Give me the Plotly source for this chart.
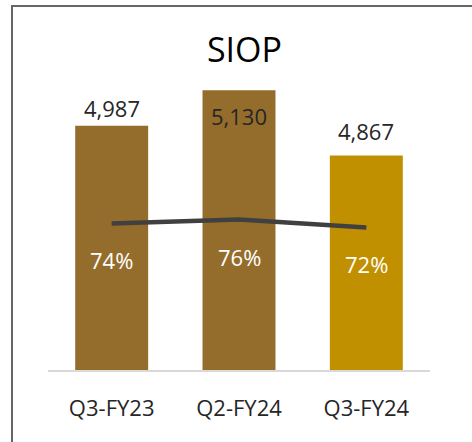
import plotly.graph_objects as go

categories = ["Q3-FY23", "Q2-FY24", "Q3-FY24"]
siop_values = [4987, 5130, 4867]
siop_pct = [0.74, 0.76, 0.72]
bar_colors = ["#946D2C", "#946D2C", "#C19000"]
value_label_shift = [18, -26, 24]

W, H = 472, 442
L, R, T, B = 48, 42, 73, 72
FONT = "Open Sans"

fig = go.Figure()
fig.add_trace(go.Bar(
    x=categories, y=siop_values, marker=dict(color=bar_colors, line=dict(width=0)),
    showlegend=False, hoverinfo="skip",
))
fig.add_trace(go.Scatter(
    x=categories, y=siop_pct, yaxis="y2", mode="lines",
    line=dict(color="#404040", width=4.5), showlegend=False, hoverinfo="skip",
))

for c, v, s in zip(categories, siop_values, value_label_shift):
    fig.add_annotation(x=c, y=v, xref="x", yref="y", text=f"{v:,}",
                       showarrow=False, yshift=s, yanchor="middle",
                       font=dict(family=FONT, size=22, color="#262626"))

for c, p in zip(categories, siop_pct):
    fig.add_annotation(x=c, y=p, xref="x", yref="y2", text=f"{p:.0%}",
                       showarrow=False, yshift=-37,
                       font=dict(family=FONT, size=22, color="#FFFFFF"))

pw, ph = W - L - R, H - T - B
def px_x(px):
    return (px - L) / pw
def px_y(py):
    return (H - B - py) / ph

bx, by = 12, 6
fig.add_shape(type="path", xref="paper", yref="paper",
              path=f"M {px_x(bx)},{px_y(H + 5)} L {px_x(bx)},{px_y(by)} L {px_x(W + 5)},{px_y(by)}",
              line=dict(color="#666666", width=2))

fig.update_layout(
    width=W, height=H, margin=dict(l=L, r=R, t=T, b=B),
    paper_bgcolor="white", plot_bgcolor="white",
    bargap=0.427,
    title=dict(text="SIOP", x=(244.5) / W, xanchor="center", y=1 - 50 / H, yanchor="middle",
               font=dict(family=FONT, size=34, color="#000000")),
    xaxis=dict(type="category", range=[-0.5, 2.5], showline=True, linecolor="#D9D9D9",
               linewidth=1.5, ticks="", showgrid=False, zeroline=False,
               tickfont=dict(family=FONT, size=22, color="#262626"), ticklabelstandoff=18),
    yaxis=dict(range=[4000, 5200], visible=False, showgrid=False, zeroline=False),
    yaxis2=dict(range=[0, 1.5], overlaying="y", visible=False, showgrid=False, zeroline=False),
)

fig.write_html("out.html")
